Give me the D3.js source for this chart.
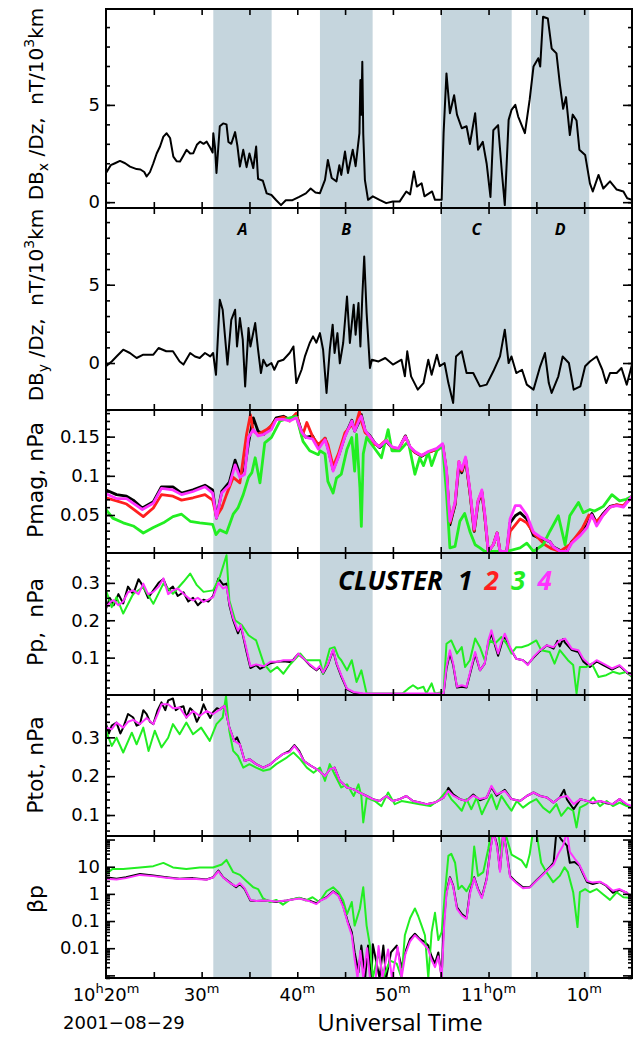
<!DOCTYPE html>
<html>
<head>
<meta charset="utf-8">
<script src="https://d3js.org/d3.v7.min.js"></script>
<style>
body { margin: 0; background: #fff; }
text { font-family: "DejaVu Sans", sans-serif; }
</style>
</head>
<body>
<div id="chart"></div>
<script>
// time in minutes after 10:20 UT, 2001-08-29
var bandRanges = [[11.22, 17.32], [22.37, 27.88], [35.03, 42.42], [44.44, 50.53]];
var bandNames = ["A", "B", "C", "D"];

var xTickMinutes = [0, 10, 20, 30, 40, 50];
var xTickLabels = [["10", "h", "20", "m"], ["", "", "30", "m"], ["", "", "40", "m"], ["", "", "50", "m"], ["11", "h", "0", "m"], ["", "", "10", "m"]];

var clusterNames = ["1", "2", "3", "4"];
var clusterColors = ["#000000", "#ff1f1f", "#22ee22", "#ff33ff"];

// dBx/dz, nT/10^3 km
var dbx = [[0,1.5],[0.5,1.9],[0.94,2.0],[1.46,2.12],[2,2.0],[2.51,1.83],[3.2,1.7],[3.6,1.68],[4.0,1.55],[4.25,1.32],[4.6,1.55],[4.95,2.0],[5.3,2.5],[5.65,2.86],[6.0,3.37],[6.34,3.54],[6.7,3.3],[7.04,2.34],[7.4,2.1],[7.74,2.09],[8.1,2.4],[8.43,2.69],[8.8,2.5],[9.13,2.52],[9.5,2.95],[9.83,3.11],[10.2,3.0],[10.53,3.11],[10.9,2.8],[11.15,2.55],[11.22,3.54],[11.4,2.8],[11.55,1.5],[11.9,3.9],[12.25,4.05],[12.6,4.0],[12.8,3.1],[13.1,3.0],[13.5,3.6],[13.75,2.86],[14.0,1.83],[14.35,2.69],[14.7,1.8],[15.0,2.5],[15.4,1.75],[15.7,2.86],[15.9,1.2],[16.4,1.1],[16.8,0.45],[17.3,0.37],[17.8,0.1],[18.3,-0.15],[18.8,0.1],[19.5,0.1],[20.2,0.27],[20.9,0.45],[21.4,0.7],[21.9,0.5],[22.37,0.46],[22.9,1.15],[23.2,2.17],[23.6,1.24],[24.1,1.07],[24.4,1.9],[24.6,1.4],[24.99,2.6],[25.3,1.5],[25.8,2.7],[26.1,1.85],[26.5,3.55],[26.6,6.28],[26.7,4.5],[26.8,7.22],[26.9,3.5],[27.07,1.15],[27.4,0.12],[27.9,0.3],[28.6,0.12],[29.3,-0.05],[29.99,0.03],[30.7,0.03],[31.4,0.55],[31.8,0.4],[32.2,1.58],[32.5,0.8],[33.0,0.97],[33.3,0.3],[34.1,0.55],[34.4,0.12],[35.1,0.12],[35.3,3.55],[35.6,6.62],[35.96,4.57],[36.4,5.5],[36.7,4.5],[37.2,3.8],[37.7,3.9],[38.05,2.99],[38.6,4.57],[38.9,2.7],[39.4,3.1],[39.8,1.99],[40.2,0.27],[40.5,3.7],[41.0,3.96],[41.4,1.5],[41.7,-0.15],[42.1,4.23],[42.4,4.74],[42.8,5.0],[43.1,4.4],[43.8,3.55],[44.3,5.27],[44.7,6.97],[45.2,7.4],[45.4,6.97],[45.7,9.53],[46.2,9.44],[46.6,7.9],[47.1,7.65],[47.45,6.1],[47.8,4.8],[48.1,5.4],[48.5,3.45],[48.8,4.5],[49.2,4.2],[49.5,2.7],[50.1,2.43],[50.6,0.97],[50.9,0.55],[51.5,1.4],[52.0,0.7],[52.7,1.07],[53.4,0.65],[54.1,0.55],[54.5,0.2],[55,0.12]];

// dBy/dz, nT/10^3 km
var dby = [[0,-0.2],[0.6,0.1],[1.1,0.42],[1.8,0.85],[2.5,0.64],[3.2,0.32],[3.9,0.53],[4.95,0.53],[5.5,0.96],[6.3,0.75],[7.0,0.75],[7.7,0.1],[8.1,-0.1],[8.8,0.64],[9.3,0.42],[9.8,0.32],[10.35,0.64],[10.9,0.42],[11.2,0.64],[11.5,-0.75],[11.9,4.04],[12.2,3.4],[12.7,-0.1],[13.1,2.76],[13.5,3.4],[13.7,1.06],[14.0,2.87],[14.3,1.49],[14.55,-1.5],[14.9,2.23],[15.1,1.06],[15.6,2.55],[15.9,0.85],[16.2,-0.64],[16.45,0.21],[16.8,-0.2],[17.3,0],[17.6,-0.43],[18.0,0.1],[18.55,0.21],[19.2,0.64],[19.6,1.06],[19.9,-1.28],[20.45,-0.43],[20.8,0.42],[21.3,1.28],[21.65,1.7],[22.0,1.3],[22.37,1.91],[22.7,0.85],[23.06,-1.91],[23.4,0.85],[23.7,2.45],[23.9,0.64],[24.2,1.91],[24.45,-0.02],[24.8,1.28],[25.2,4.25],[25.5,1.28],[25.9,3.72],[26.1,1.81],[26.4,3.83],[26.6,1.06],[26.8,4.25],[27.0,6.8],[27.25,3.2],[27.6,-0.32],[27.8,0.21],[28.5,0.1],[29.2,0.32],[30.0,-0.1],[30.9,0.21],[31.25,-0.85],[31.5,0.75],[31.9,-0.85],[32.6,-1.7],[33.2,-1.28],[33.7,0.21],[34.05,-0.75],[34.6,0.53],[34.9,-0.2],[35.4,0],[35.8,-1.28],[36.3,-2.55],[36.6,0.42],[37.2,0.75],[37.7,-0.64],[38.4,-0.64],[39.1,-1.49],[39.8,-1.38],[40.5,-0.53],[41.2,0.42],[41.7,2.13],[42.1,0],[42.4,0.42],[42.9,-0.64],[43.5,-0.43],[44.0,-1.38],[44.7,-1.7],[45.4,-0.21],[45.9,0.64],[46.3,-1.28],[46.6,-1.91],[47.3,-0.85],[47.75,0.42],[48.4,0],[48.9,-1.7],[49.6,-1.49],[50.1,-0.21],[50.6,0.1],[51.3,0.42],[51.9,-0.43],[52.3,-1.28],[52.7,-0.64],[53.4,-0.64],[53.9,-0.32],[54.45,-1.38],[55,-0.1]];

// magnetic pressure, nPa (clusters 1-4)
var pmag1 = [[0,0.082],[1.1,0.076],[2.15,0.074],[2.85,0.069],[3.8,0.059],[4.95,0.067],[5.8,0.086],[7.0,0.086],[7.9,0.078],[9.1,0.082],[10.35,0.088],[11.15,0.082],[11.55,0.046],[12.1,0.080],[12.9,0.092],[13.5,0.12],[14.0,0.102],[14.5,0.109],[14.9,0.142],[15.4,0.174],[15.9,0.157],[16.5,0.153],[17.3,0.164],[17.8,0.174],[18.55,0.176],[19.2,0.172],[19.9,0.178],[20.5,0.155],[20.9,0.149],[21.6,0.151],[22.2,0.136],[22.9,0.148],[23.2,0.136],[23.75,0.108],[24.3,0.125],[24.99,0.151],[25.7,0.171],[26.0,0.157],[26.5,0.170],[26.7,0.178],[27.1,0.157],[27.6,0.151],[28.1,0.142],[28.6,0.136],[29.3,0.144],[29.9,0.136],[30.6,0.134],[31.3,0.151],[31.8,0.136],[32.3,0.130],[33.0,0.125],[33.7,0.130],[34.6,0.134],[35.2,0.140],[35.6,0.106],[35.96,0.0375],[36.5,0.063],[36.9,0.114],[37.2,0.104],[37.6,0.121],[38.05,0.079],[38.5,0.029],[38.9,0.066],[39.3,0.079],[39.6,0.049],[39.97,0.0035],[40.5,0.012],[40.9,0.027],[41.2,0.0035],[41.9,0.0035],[42.25,0.040],[42.8,0.049],[43.3,0.053],[44.0,0.045],[44.7,0.024],[45.4,0.020],[46.4,0.016],[46.8,0.009],[47.45,0.005],[48.2,0.0035],[48.7,0.016],[49.6,0.027],[50.3,0.037],[50.8,0.052],[51.3,0.040],[52.0,0.052],[52.7,0.061],[53.4,0.063],[54.1,0.061],[55,0.074]];
var pmag2 = [[0,0.072],[1.1,0.068],[2.15,0.064],[3.9,0.048],[4.95,0.059],[5.8,0.076],[7.0,0.074],[7.9,0.069],[9.1,0.072],[10.35,0.076],[11.15,0.069],[11.55,0.048],[12.1,0.059],[12.6,0.076],[13.3,0.098],[14.0,0.091],[14.7,0.153],[15.1,0.178],[15.4,0.157],[15.9,0.153],[16.8,0.159],[17.3,0.164],[17.8,0.172],[18.55,0.175],[19.2,0.170],[19.9,0.180],[20.5,0.150],[21.0,0.168],[21.6,0.150],[22.2,0.140],[22.9,0.148],[23.2,0.140],[23.75,0.112],[24.3,0.128],[24.99,0.155],[25.7,0.165],[26.0,0.160],[26.5,0.182],[26.7,0.170],[27.1,0.155],[27.6,0.150],[28.1,0.140],[28.6,0.138],[29.3,0.146],[29.9,0.136],[30.6,0.134],[31.3,0.150],[31.8,0.136],[32.3,0.130],[33.0,0.126],[33.7,0.130],[34.6,0.134],[35.2,0.140],[35.6,0.104],[35.96,0.040],[36.5,0.065],[36.9,0.118],[37.2,0.106],[37.6,0.122],[38.05,0.080],[38.5,0.030],[38.9,0.068],[39.3,0.080],[39.6,0.050],[39.97,0.0035],[40.5,0.012],[40.9,0.027],[41.2,0.0035],[41.9,0.0035],[42.25,0.029],[43.3,0.045],[44.0,0.040],[44.9,0.024],[45.9,0.012],[46.6,0.007],[47.45,0.0035],[48.5,0.012],[49.8,0.033],[50.5,0.050],[51.3,0.042],[52.0,0.050],[52.7,0.060],[53.4,0.063],[54.1,0.062],[55,0.073]];
var pmag3 = [[0,0.057],[0.7,0.046],[1.8,0.040],[2.85,0.036],[3.9,0.027],[4.95,0.034],[6.0,0.040],[7.0,0.048],[7.9,0.051],[8.8,0.042],[9.8,0.040],[11.15,0.038],[11.5,0.025],[11.9,0.031],[12.6,0.027],[13.3,0.051],[13.8,0.059],[14.35,0.076],[14.9,0.098],[15.25,0.104],[15.6,0.123],[16.1,0.091],[16.6,0.142],[17.3,0.149],[18.2,0.170],[19.2,0.174],[19.9,0.176],[20.6,0.144],[21.3,0.132],[22.2,0.127],[22.37,0.132],[22.9,0.128],[23.2,0.093],[23.75,0.078],[24.1,0.097],[24.6,0.102],[25.2,0.134],[25.7,0.149],[26.0,0.106],[26.2,0.153],[26.55,0.085],[26.7,0.0355],[26.9,0.128],[27.25,0.149],[27.9,0.138],[28.8,0.123],[29.5,0.159],[29.9,0.132],[30.7,0.132],[31.6,0.144],[32.3,0.102],[32.8,0.123],[33.2,0.113],[33.7,0.130],[34.05,0.113],[34.6,0.132],[35.2,0.138],[35.6,0.079],[35.96,0.008],[36.5,0.010],[37.0,0.042],[37.5,0.052],[38.05,0.029],[38.6,0.012],[39.1,0.008],[39.6,0.0035],[40.5,0.0035],[41.9,0.0035],[43.3,0.008],[44.0,0.014],[44.7,0.0035],[45.7,0.012],[46.4,0.029],[47.3,0.049],[48.0,0.012],[48.5,0.049],[49.4,0.066],[49.9,0.053],[50.6,0.057],[51.1,0.055],[52.0,0.061],[52.9,0.076],[53.7,0.068],[54.4,0.070],[55,0.074]];
var pmag4 = [[0,0.077],[1.1,0.071],[2.15,0.071],[3.8,0.057],[4.95,0.065],[5.8,0.084],[7.0,0.082],[7.9,0.076],[9.1,0.080],[10.35,0.086],[11.15,0.078],[11.55,0.046],[12.1,0.078],[12.9,0.088],[13.5,0.114],[14.0,0.098],[14.5,0.102],[14.9,0.149],[15.4,0.159],[15.9,0.151],[16.5,0.153],[17.3,0.159],[17.8,0.172],[18.55,0.172],[19.2,0.170],[19.9,0.174],[20.5,0.155],[20.9,0.149],[21.6,0.147],[22.2,0.134],[22.9,0.146],[23.2,0.134],[23.75,0.106],[24.3,0.124],[24.99,0.150],[25.7,0.170],[26.0,0.157],[26.5,0.172],[26.7,0.176],[27.1,0.158],[27.6,0.150],[28.1,0.142],[28.6,0.137],[29.3,0.145],[29.9,0.137],[30.6,0.135],[31.3,0.150],[31.8,0.137],[32.3,0.131],[33.0,0.126],[33.7,0.131],[34.6,0.135],[35.2,0.141],[35.6,0.108],[35.96,0.042],[36.5,0.066],[36.9,0.118],[37.2,0.108],[37.6,0.124],[38.05,0.082],[38.5,0.032],[38.9,0.068],[39.3,0.082],[39.6,0.052],[39.97,0.0035],[40.5,0.012],[40.9,0.027],[41.2,0.0035],[41.9,0.0035],[42.25,0.045],[42.8,0.062],[43.3,0.062],[44.0,0.050],[44.7,0.028],[45.4,0.022],[46.4,0.016],[46.8,0.009],[47.45,0.004],[48.2,0.0035],[48.7,0.014],[49.6,0.024],[50.3,0.034],[50.8,0.050],[51.3,0.036],[52.0,0.050],[52.7,0.060],[53.4,0.062],[54.1,0.060],[55,0.074]];

// proton pressure, nPa (clusters 1, 3, 4)
var pp1 = [[0,0.231],[0.4,0.26],[0.8,0.24],[1.3,0.27],[1.8,0.245],[2.3,0.29],[2.85,0.27],[3.4,0.31],[3.9,0.29],[4.4,0.26],[4.95,0.28],[5.5,0.3],[6.0,0.31],[6.5,0.28],[7.0,0.29],[7.5,0.265],[8.1,0.275],[8.6,0.25],[9.1,0.26],[9.6,0.24],[10.2,0.255],[10.7,0.25],[11.2,0.265],[11.5,0.29],[11.75,0.312],[12.25,0.295],[12.6,0.298],[12.9,0.240],[13.3,0.200],[13.8,0.165],[14.1,0.185],[14.7,0.115],[15.1,0.072],[15.7,0.080],[16.1,0.07],[16.5,0.075],[17.2,0.085],[17.9,0.089],[18.55,0.09],[19.2,0.088],[19.6,0.095],[20.1,0.11],[20.65,0.098],[21.3,0.080],[22.0,0.066],[22.37,0.075],[22.7,0.057],[23.2,0.080],[23.75,0.120],[24.1,0.084],[24.6,0.050],[25.2,0.015],[25.9,0.006],[26.9,0.003],[35.3,0.003],[35.6,0.070],[35.96,0.112],[36.3,0.080],[36.7,0.020],[37.2,0.022],[37.7,0.020],[38.2,0.070],[38.6,0.110],[39.1,0.066],[39.6,0.084],[39.97,0.140],[40.3,0.165],[40.6,0.140],[41.0,0.105],[41.4,0.140],[41.7,0.158],[42.25,0.125],[42.9,0.097],[43.6,0.093],[44.1,0.082],[44.7,0.100],[45.4,0.118],[46.1,0.133],[46.8,0.124],[47.2,0.145],[47.45,0.130],[47.8,0.150],[48.0,0.140],[48.7,0.120],[49.4,0.115],[49.9,0.090],[50.6,0.075],[51.3,0.090],[52.0,0.080],[52.9,0.068],[53.7,0.078],[54.45,0.060],[55,0.050]];
var pp3 = [[0,0.280],[0.6,0.235],[1.1,0.262],[1.8,0.218],[2.85,0.271],[3.9,0.289],[4.95,0.244],[6.0,0.298],[7.0,0.271],[8.1,0.303],[8.8,0.325],[9.5,0.294],[10.2,0.276],[11.2,0.280],[11.9,0.316],[12.6,0.374],[12.9,0.253],[13.5,0.200],[14.2,0.187],[14.9,0.160],[15.7,0.146],[16.5,0.084],[17.2,0.062],[17.9,0.075],[18.55,0.057],[19.2,0.080],[20.3,0.111],[20.9,0.093],[21.65,0.093],[22.37,0.093],[22.7,0.057],[23.4,0.124],[23.9,0.128],[24.3,0.102],[24.6,0.093],[25.2,0.066],[25.7,0.093],[26.2,0.035],[26.7,0.066],[27.25,0.004],[31.0,0.004],[31.6,0.017],[32.1,0.026],[32.6,0.017],[33.2,0.022],[33.5,0.004],[34.05,0.031],[34.4,0.004],[35.3,0.008],[35.6,0.137],[36.1,0.146],[36.7,0.111],[37.2,0.128],[37.55,0.075],[38.05,0.093],[38.6,0.151],[39.1,0.128],[39.6,0.093],[40.15,0.146],[40.65,0.137],[41.35,0.155],[41.9,0.137],[42.4,0.111],[42.9,0.128],[43.45,0.128],[44.1,0.133],[45.0,0.146],[45.5,0.120],[46.4,0.115],[46.9,0.084],[47.45,0.120],[48.3,0.093],[48.85,0.080],[49.2,0.004],[49.55,0.075],[50.25,0.075],[50.8,0.084],[51.5,0.048],[52.3,0.053],[53.0,0.062],[53.7,0.057],[54.45,0.062],[55,0.048]];
var pp4 = [[0,0.235],[0.5,0.25],[0.8,0.254],[1.3,0.24],[1.8,0.25],[2.3,0.275],[2.85,0.28],[3.4,0.27],[3.9,0.298],[4.4,0.27],[4.95,0.276],[5.5,0.29],[6.0,0.312],[6.5,0.27],[7.0,0.280],[7.5,0.285],[8.1,0.271],[8.6,0.26],[9.1,0.253],[9.6,0.26],[10.2,0.249],[10.7,0.255],[11.2,0.262],[11.75,0.300],[12.25,0.285],[12.6,0.290],[12.9,0.245],[13.3,0.205],[13.8,0.172],[14.1,0.187],[14.7,0.122],[15.1,0.077],[15.7,0.082],[16.5,0.077],[17.2,0.089],[17.9,0.089],[18.55,0.093],[19.6,0.093],[20.1,0.111],[20.65,0.098],[21.3,0.082],[22.0,0.068],[22.37,0.078],[22.7,0.060],[23.2,0.082],[23.75,0.122],[24.1,0.086],[24.6,0.053],[25.2,0.017],[25.9,0.008],[26.9,0.004],[35.3,0.004],[35.6,0.075],[35.96,0.120],[36.3,0.084],[36.7,0.022],[37.2,0.026],[37.7,0.022],[38.2,0.075],[38.6,0.115],[39.1,0.066],[39.6,0.084],[39.97,0.146],[40.3,0.173],[40.6,0.146],[41.0,0.111],[41.4,0.146],[41.7,0.164],[42.25,0.128],[42.9,0.097],[43.6,0.093],[44.1,0.080],[44.7,0.102],[45.4,0.120],[46.1,0.133],[46.8,0.128],[47.45,0.146],[48.0,0.151],[48.7,0.124],[49.4,0.120],[49.9,0.097],[50.6,0.080],[51.3,0.093],[52.0,0.084],[52.9,0.071],[53.7,0.080],[54.45,0.062],[55,0.053]];

// total pressure, nPa (clusters 1, 3, 4)
var ptot1 = [[0,0.334],[0.3,0.31],[0.6,0.33],[1.1,0.338],[1.5,0.31],[1.8,0.325],[2.3,0.36],[2.85,0.351],[3.2,0.33],[3.55,0.334],[3.9,0.37],[4.25,0.36],[4.6,0.34],[4.95,0.334],[5.4,0.37],[5.8,0.39],[6.2,0.37],[6.5,0.395],[7.0,0.40],[7.3,0.37],[7.7,0.377],[8.1,0.38],[8.4,0.351],[8.8,0.375],[9.1,0.368],[9.5,0.34],[9.8,0.355],[10.2,0.385],[10.5,0.368],[10.9,0.35],[11.2,0.365],[11.6,0.375],[11.9,0.372],[12.4,0.381],[12.9,0.325],[13.4,0.291],[13.7,0.30],[14.0,0.282],[14.5,0.239],[15.0,0.244],[15.7,0.231],[16.45,0.222],[17.2,0.231],[17.8,0.244],[18.5,0.257],[19.2,0.265],[19.7,0.280],[20.2,0.265],[20.7,0.239],[21.4,0.227],[22.3,0.214],[22.9,0.200],[23.4,0.218],[23.9,0.222],[24.45,0.188],[25.2,0.171],[25.9,0.166],[26.5,0.158],[27.25,0.149],[27.9,0.141],[28.6,0.136],[29.3,0.149],[29.99,0.136],[30.7,0.141],[31.4,0.149],[32.1,0.136],[32.8,0.132],[33.5,0.128],[34.4,0.132],[35.3,0.145],[35.8,0.170],[36.3,0.153],[37.0,0.141],[37.7,0.136],[38.4,0.153],[39.1,0.138],[39.8,0.145],[40.3,0.172],[40.85,0.150],[41.7,0.165],[42.4,0.141],[43.3,0.136],[44.0,0.149],[44.7,0.158],[45.4,0.149],[46.1,0.145],[46.8,0.132],[47.45,0.145],[47.9,0.165],[48.2,0.140],[48.9,0.115],[49.6,0.141],[50.3,0.136],[50.9,0.130],[51.65,0.136],[52.3,0.130],[53.0,0.128],[53.7,0.141],[54.45,0.126],[55,0.122]];
var ptot3 = [[0,0.317],[0.6,0.278],[1.1,0.299],[1.8,0.261],[2.7,0.312],[3.2,0.282],[3.9,0.325],[4.45,0.265],[5.1,0.317],[5.8,0.274],[6.5,0.299],[7.0,0.334],[7.7,0.308],[8.4,0.338],[9.1,0.308],[9.95,0.325],[10.85,0.291],[11.55,0.334],[12.2,0.351],[12.55,0.406],[12.9,0.316],[13.3,0.265],[13.8,0.252],[14.35,0.222],[15.0,0.231],[15.7,0.222],[16.45,0.214],[17.15,0.218],[17.8,0.231],[18.9,0.248],[19.6,0.261],[20.3,0.244],[21.0,0.222],[21.7,0.209],[22.37,0.222],[22.9,0.188],[23.4,0.231],[23.9,0.205],[24.6,0.171],[25.2,0.179],[25.9,0.149],[26.4,0.179],[26.7,0.149],[26.9,0.081],[27.25,0.145],[28.1,0.136],[28.8,0.123],[29.5,0.158],[30.2,0.128],[30.9,0.136],[31.8,0.132],[32.8,0.128],[33.9,0.123],[34.9,0.141],[35.6,0.162],[36.1,0.141],[36.6,0.128],[37.2,0.111],[37.7,0.141],[38.2,0.115],[38.75,0.145],[39.3,0.102],[39.8,0.128],[40.3,0.153],[40.85,0.115],[41.35,0.149],[41.9,0.128],[42.4,0.111],[42.95,0.136],[43.6,0.119],[44.3,0.132],[45.0,0.141],[45.7,0.119],[46.4,0.106],[47.1,0.128],[47.6,0.098],[48.3,0.119],[48.85,0.111],[49.2,0.068],[49.55,0.119],[50.25,0.128],[50.95,0.145],[51.65,0.123],[52.35,0.136],[53.0,0.123],[53.7,0.132],[54.45,0.123],[55,0.119]];
var ptot4 = [[0,0.325],[0.6,0.321],[1.1,0.338],[1.8,0.325],[2.3,0.34],[2.85,0.345],[3.55,0.334],[4.25,0.350],[4.95,0.334],[5.4,0.36],[5.8,0.385],[6.5,0.385],[7.0,0.375],[7.7,0.377],[8.4,0.351],[9.1,0.368],[9.8,0.355],[10.5,0.368],[11.2,0.360],[11.9,0.372],[12.4,0.381],[12.9,0.325],[13.4,0.291],[14.0,0.282],[14.5,0.239],[15.0,0.244],[15.7,0.231],[16.45,0.222],[17.2,0.231],[17.8,0.244],[18.5,0.257],[19.2,0.262],[19.7,0.278],[20.2,0.262],[20.7,0.239],[21.4,0.227],[22.3,0.214],[22.9,0.200],[23.4,0.218],[23.9,0.222],[24.45,0.188],[25.2,0.171],[25.9,0.166],[26.5,0.158],[27.25,0.149],[27.9,0.141],[28.6,0.136],[29.3,0.149],[29.99,0.136],[30.7,0.141],[31.4,0.149],[32.1,0.136],[32.8,0.132],[33.5,0.128],[34.4,0.132],[35.3,0.145],[35.8,0.162],[36.3,0.150],[37.0,0.141],[37.7,0.136],[38.4,0.150],[39.1,0.141],[39.8,0.145],[40.3,0.175],[40.85,0.153],[41.7,0.162],[42.4,0.141],[43.3,0.136],[44.0,0.149],[44.7,0.158],[45.4,0.149],[46.1,0.145],[46.8,0.132],[47.45,0.145],[48.2,0.149],[48.9,0.128],[49.6,0.141],[50.3,0.136],[50.9,0.132],[51.65,0.136],[52.3,0.132],[53.0,0.128],[53.7,0.141],[54.45,0.128],[55,0.123]];

// proton beta (clusters 1, 3, 4)
var beta1 = [[0,4.1],[1.1,3.6],[2.1,4.1],[3.55,5.4],[4.95,4.7],[6.3,4.1],[7.7,3.6],[9.1,3.8],[10.5,3.4],[11.2,4.1],[11.75,7.2],[12.25,4.1],[12.9,2.7],[13.6,1.75],[14.0,2.3],[14.5,1.5],[15.1,0.57],[15.7,0.55],[16.8,0.57],[17.8,0.5],[18.9,0.57],[20.2,0.7],[21.2,0.57],[22.0,0.45],[22.37,0.57],[23.06,0.75],[23.75,1.25],[24.3,0.9],[24.8,0.37],[25.3,0.09],[25.7,0.039],[26.0,0.007],[26.4,0.0013],[26.7,0.0125],[27.1,0.0008],[27.4,0.0125],[27.75,0.0008],[27.9,0.014],[28.6,0.0008],[29.0,0.0125],[29.3,0.0008],[29.8,0.007],[30.4,0.0125],[30.9,0.002],[31.4,0.009],[31.8,0.022],[32.3,0.034],[32.8,0.022],[33.3,0.017],[33.7,0.0125],[34.0,0.0055],[34.4,0.0027],[34.75,0.007],[35.1,0.0008],[35.3,0.068],[35.6,1.15],[35.96,4.1],[36.3,2.0],[36.7,0.32],[37.2,0.18],[37.7,0.13],[38.05,1.15],[38.5,4.1],[38.9,1.5],[39.3,0.75],[39.8,3.6],[40.2,45],[40.5,200],[40.9,60],[41.2,7.2],[41.55,200],[41.9,35],[42.25,4.6],[42.9,2.7],[43.6,1.75],[44.3,1.75],[45.0,3.1],[45.7,5.4],[46.4,9.5],[46.8,14],[47.1,200],[47.6,100],[48.2,60],[48.5,14],[49.0,15],[49.5,11],[49.9,5.4],[50.3,2.7],[50.9,2.3],[51.65,2.7],[52.3,2.0],[53.0,1.1],[53.7,1.4],[54.45,1.1],[55,0.75]];
var beta3 = [[0,5.4],[0.7,8.3],[1.8,8.3],[3.55,9.4],[4.95,10.5],[6.0,13.8],[7.0,9.4],[8.4,8.3],[9.8,9.4],[11.2,9.4],[12.1,12.1],[12.6,17.8],[13.3,6.3],[14.0,5],[14.7,2.9],[15.4,1.75],[15.9,1.5],[16.4,0.7],[17.15,0.5],[17.8,0.6],[18.5,0.4],[19.2,0.6],[20.2,0.72],[20.9,0.57],[21.6,0.75],[22.3,0.5],[23.06,1.25],[23.75,1.75],[24.3,1.15],[24.8,0.57],[25.2,0.18],[25.7,0.5],[26.0,0.068],[26.55,0.29],[26.9,1.75],[27.25,0.068],[27.6,0.0125],[27.9,0.0008],[28.5,0.007],[29.0,0.0008],[29.7,0.0035],[30.4,0.0027],[30.9,0.0008],[31.25,0.03],[31.8,0.13],[32.3,0.29],[32.65,0.15],[33.0,0.068],[33.35,0.03],[33.7,0.0008],[34.05,0.039],[34.4,0.2],[34.75,0.02],[35.1,0.039],[35.45,1.15],[35.8,25],[36.1,30],[36.5,14],[36.85,1.5],[37.2,2.0],[37.7,1.25],[38.2,2.7],[38.5,55],[38.9,4.6],[39.45,6.3],[39.97,45],[40.3,200],[41.0,200],[41.35,25],[41.7,200],[42.4,28],[42.9,22],[43.45,17],[43.95,9.5],[44.3,28],[44.65,200],[45.0,200],[45.5,14],[46.05,6.3],[46.75,2.7],[47.45,4.6],[47.95,9.5],[48.3,6.3],[48.85,1.15],[49.3,0.06],[49.55,1.15],[50.1,1.5],[50.6,1.15],[51.3,1.5],[52.0,0.95],[52.7,0.6],[53.4,1.15],[54.1,0.75],[55,0.7]];
var beta4 = [[0,3.6],[1.1,3.4],[2.1,3.8],[3.55,5.0],[4.95,4.5],[6.3,3.9],[7.7,3.5],[9.1,3.6],[10.5,3.3],[11.2,4.0],[11.75,6.8],[12.25,4.0],[12.9,2.6],[13.6,1.9],[14.0,2.5],[14.5,1.6],[15.1,0.6],[15.7,0.55],[16.8,0.57],[17.8,0.52],[18.9,0.57],[20.2,0.68],[21.2,0.55],[22.0,0.42],[22.37,0.55],[23.06,0.72],[23.75,1.2],[24.3,0.85],[24.8,0.33],[25.3,0.08],[25.7,0.03],[26.0,0.004],[26.3,0.0008],[26.6,0.008],[26.9,0.0008],[27.3,0.01],[27.6,0.0008],[28.2,0.0008],[28.5,0.012],[28.9,0.0008],[29.5,0.009],[29.9,0.0008],[30.5,0.011],[30.9,0.0008],[31.3,0.006],[31.8,0.018],[32.3,0.03],[32.8,0.02],[33.3,0.013],[33.7,0.009],[34.0,0.004],[34.4,0.002],[34.75,0.005],[35.1,0.0008],[35.35,0.06],[35.6,1.0],[35.96,3.8],[36.3,1.9],[36.7,0.28],[37.2,0.16],[37.7,0.12],[38.05,1.0],[38.5,3.8],[38.9,1.4],[39.3,0.7],[39.8,3.3],[40.2,40],[40.5,200],[40.9,50],[41.2,6.5],[41.55,200],[41.9,30],[42.25,4.2],[42.9,2.5],[43.6,1.6],[44.3,1.7],[45.0,3.0],[45.7,5.2],[46.4,9],[46.8,12],[47.3,30],[47.8,60],[48.2,200],[48.5,35],[49.0,20],[49.5,12],[49.9,6],[50.3,3.0],[50.9,2.6],[51.65,2.8],[52.3,2.1],[53.0,1.3],[53.7,1.5],[54.45,1.1],[55,0.7]];

// y tick values and labels per panel
var dbTicks = [0, 5], dbLabels = ["0", "5"];
var pmagTicks = [0.05, 0.1, 0.15], pmagLabels = ["0.05", "0.1", "0.15"];
var pTicks = [0.1, 0.2, 0.3], pLabels = ["0.1", "0.2", "0.3"];
var betaTicks = [0.001, 0.01, 0.1, 1, 10, 100], betaLabels = ["", "0.01", "0.1", "1", "10", ""];

var W = 637, H = 1039;
var left = 106, right = 632;

var svg = d3.select("#chart")
    .append("svg")
    .attr("width", W)
    .attr("height", H);

var x = d3.scaleLinear()
    .domain([0, 55])
    .range([left, right]);

var logMinor = [];
[0.0001, 0.001, 0.01, 0.1, 1, 10, 100].forEach(function(dec) {
    for (var k = 2; k <= 9; k++) logMinor.push(dec * k);
});

// label parts: [text, 0 normal / 1 subscript / 2 superscript]
var panels = [
    {top: 9, bottom: 208, domain: [-0.3, 9.93], ticks: dbTicks, labels: dbLabels, minor: d3.range(-3, 10, 1), lw: 2,
     series: [[dbx, 0]], ylab: [["DB", 0], ["x", 1], [" /Dz,  nT/10", 0], ["3", 2], ["km", 0]], ly: 104, fs: 20},
    {top: 208, bottom: 410, domain: [-3.0, 9.9], ticks: dbTicks, labels: dbLabels, minor: d3.range(-3, 10, 1), lw: 2,
     series: [[dby, 0]], ylab: [["DB", 0], ["y", 1], [" /Dz,  nT/10", 0], ["3", 2], ["km", 0]], ly: 305, fs: 20},
    {top: 410, bottom: 553, domain: [0.0015, 0.184], ticks: pmagTicks, labels: pmagLabels, minor: d3.range(0.01, 0.185, 0.01), lw: 2.8,
     series: [[pmag1, 0], [pmag2, 1], [pmag3, 2], [pmag4, 3]], ylab: [["Pmag, nPa", 0]], ly: 480, fs: 22},
    {top: 553, bottom: 695, domain: [0, 0.38], ticks: pTicks, labels: pLabels, minor: d3.range(0.02, 0.38, 0.02), lw: 2,
     series: [[pp1, 0], [pp3, 2], [pp4, 3]], ylab: [["Pp,  nPa", 0]], ly: 622, fs: 22},
    {top: 695, bottom: 836, domain: [0.046, 0.409], ticks: pTicks, labels: pLabels, minor: d3.range(0.06, 0.41, 0.02), lw: 2,
     series: [[ptot1, 0], [ptot3, 2], [ptot4, 3]], ylab: [["Ptot, nPa", 0]], ly: 765, fs: 22},
    {top: 836, bottom: 978, domain: [0.0008, 135], log: true, ticks: betaTicks, labels: betaLabels, minor: logMinor, lw: 2,
     series: [[beta1, 0], [beta3, 2], [beta4, 3]], ylab: [["\u03b2p", 0]], ly: 899, fs: 22}
];

// shaded intervals
svg.append("g")
    .selectAll("rect")
    .data(bandRanges)
    .enter()
    .append("rect")
    .attr("x", function(d) { return x(d[0]); })
    .attr("width", function(d) { return x(d[1]) - x(d[0]); })
    .attr("y", panels[0].top)
    .attr("height", panels[5].bottom - panels[0].top)
    .attr("fill", "#c5d5dd");

panels.forEach(function(p, i) {
    var y = (p.log ? d3.scaleLog() : d3.scaleLinear())
        .domain(p.domain)
        .range([p.bottom, p.top]);

    svg.append("clipPath")
        .attr("id", "clip" + i)
        .append("rect")
        .attr("x", left)
        .attr("y", p.top)
        .attr("width", right - left)
        .attr("height", p.bottom - p.top);

    var line = d3.line()
        .x(function(d) { return x(d[0]); })
        .y(function(d) { return y(d[1]); });

    var g = svg.append("g").attr("clip-path", "url(#clip" + i + ")");
    p.series.forEach(function(s) {
        g.append("path")
            .datum(s[0])
            .attr("fill", "none")
            .attr("stroke", clusterColors[s[1]])
            .attr("stroke-width", p.lw)
            .attr("stroke-linejoin", "round")
            .attr("d", line);
    });

    var minor = p.minor.filter(function(v) { return v >= p.domain[0] && v <= p.domain[1]; });
    var major = p.ticks.filter(function(v) { return v >= p.domain[0] && v <= p.domain[1]; });

    // left axis: minor, then major with labels
    svg.append("g")
        .attr("transform", "translate(" + left + ",0)")
        .call(d3.axisLeft(y).tickValues(minor).tickSize(-4).tickSizeOuter(0).tickFormat(""))
        .call(function(a) { a.select(".domain").remove(); });
    var la = svg.append("g")
        .attr("transform", "translate(" + left + ",0)")
        .call(d3.axisLeft(y).tickValues(major).tickSize(-9).tickSizeOuter(0).tickPadding(6)
            .tickFormat(function(v) { return p.labels[p.ticks.indexOf(v)]; }));
    la.select(".domain").remove();
    la.selectAll("text")
        .attr("font-size", 18)
        .attr("font-family", "DejaVu Sans")
        .attr("fill", "#000");

    // right axis
    svg.append("g")
        .attr("transform", "translate(" + right + ",0)")
        .call(d3.axisRight(y).tickValues(minor).tickSize(-4).tickSizeOuter(0).tickFormat(""))
        .call(function(a) { a.select(".domain").remove(); });
    svg.append("g")
        .attr("transform", "translate(" + right + ",0)")
        .call(d3.axisRight(y).tickValues(major).tickSize(-9).tickSizeOuter(0).tickFormat(""))
        .call(function(a) { a.select(".domain").remove(); });

    // time ticks on top and bottom of each panel
    var tv = d3.range(5, 55, 5);
    svg.append("g")
        .attr("transform", "translate(0," + p.top + ")")
        .call(d3.axisTop(x).tickValues(tv).tickSize(-6).tickSizeOuter(0).tickFormat(""))
        .call(function(a) { a.select(".domain").remove(); });
    svg.append("g")
        .attr("transform", "translate(0," + p.bottom + ")")
        .call(d3.axisBottom(x).tickValues(tv).tickSize(-6).tickSizeOuter(0).tickFormat(""))
        .call(function(a) { a.select(".domain").remove(); });

    svg.append("rect")
        .attr("x", left)
        .attr("y", p.top)
        .attr("width", right - left)
        .attr("height", p.bottom - p.top)
        .attr("fill", "none")
        .attr("stroke", "#000")
        .attr("stroke-width", 2);

    // rotated y label
    var t = svg.append("text")
        .attr("transform", "translate(43," + p.ly + ") rotate(-90)")
        .attr("text-anchor", "middle")
        .attr("font-size", p.fs)
        .style("white-space", "pre");
    var shift = 0;
    p.ylab.forEach(function(part) {
        var want = part[1] == 1 ? 5 : (part[1] == 2 ? -9 : 0);
        t.append("tspan")
            .attr("dy", want - shift)
            .attr("font-size", part[1] ? 14 : p.fs)
            .text(part[0]);
        shift = want;
    });
});

svg.selectAll(".tick line").attr("stroke", "#000").attr("stroke-width", 1.6);

// band letters
svg.append("g")
    .selectAll("text")
    .data(bandRanges)
    .enter()
    .append("text")
    .attr("x", function(d) { return x((d[0] + d[1]) / 2); })
    .attr("y", 235)
    .attr("text-anchor", "middle")
    .style("font-family", "'Open Sans', sans-serif")
    .attr("font-weight", "bold")
    .attr("font-style", "italic")
    .attr("font-size", 16)
    .text(function(d, i) { return bandNames[i]; });

// legend
var legend = svg.append("g");
legend.append("text")
    .attr("x", 338)
    .attr("y", 590)
    .style("font-family", "'Open Sans', sans-serif")
    .attr("font-weight", "bold")
    .attr("font-style", "italic")
    .attr("font-size", 26)
    .text("CLUSTER");
legend.selectAll(".num")
    .data(clusterNames)
    .enter()
    .append("text")
    .attr("class", "num")
    .attr("x", function(d, i) { return 458 + i * 26.5; })
    .attr("y", 590)
    .style("font-family", "'Open Sans', sans-serif")
    .attr("font-weight", "bold")
    .attr("font-style", "italic")
    .attr("font-size", 26)
    .attr("fill", function(d, i) { return clusterColors[i]; })
    .text(function(d) { return d; });

// time labels
xTickMinutes.forEach(function(m, i) {
    var parts = xTickLabels[i];
    var t = svg.append("text")
        .attr("x", x(m))
        .attr("y", 1001)
        .attr("text-anchor", "middle")
        .attr("font-size", 18);
    if (parts[0]) {
        t.append("tspan").text(parts[0]);
        t.append("tspan").attr("dy", -8).attr("font-size", 13).text(parts[1]);
        t.append("tspan").attr("dy", 8).text(parts[2]);
    } else {
        t.append("tspan").text(parts[2]);
    }
    t.append("tspan").attr("dy", -8).attr("font-size", 13).text(parts[3]);
});

svg.append("text")
    .attr("x", 63)
    .attr("y", 1029)
    .attr("font-size", 18)
    .text("2001\u221208\u221229");

svg.append("text")
    .attr("x", 400)
    .attr("y", 1031)
    .attr("text-anchor", "middle")
    .style("font-family", "'Open Sans', sans-serif")
    .attr("font-size", 24)
    .text("Universal Time");
</script>
</body>
</html>
